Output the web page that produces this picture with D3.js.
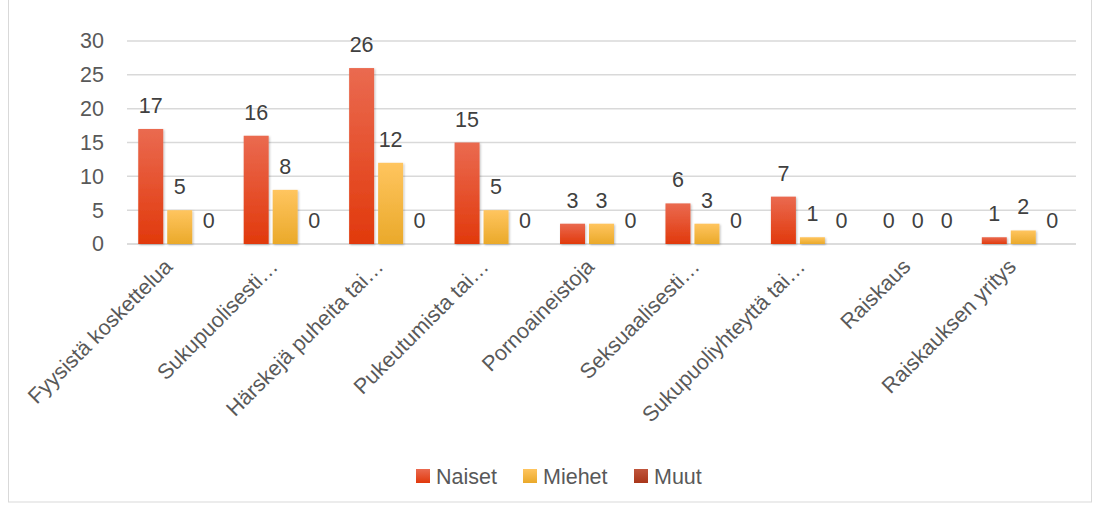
<!DOCTYPE html>
<html>
<head>
<meta charset="utf-8">
<script src="https://cdn.jsdelivr.net/npm/d3@7"></script>
<style>
  body { margin: 0; background: #fff; }
  text { font-family: "Liberation Sans", Arial, sans-serif; }
</style>
</head>
<body>
<script>
"use strict";
(function(){
    // data
    const categories = ["Fyysistä koskettelua", "Sukupuolisesti…", "Härskejä puheita tai…",
        "Pukeutumista tai…", "Pornoaineistoja", "Seksuaalisesti…", "Sukupuoliyhteyttä tai…",
        "Raiskaus", "Raiskauksen yritys"]
    const seriesNames = ["Naiset", "Miehet", "Muut"]
    const naiset = [17, 16, 26, 15, 3, 6, 7, 0, 1]
    const miehet = [5, 8, 12, 5, 3, 3, 1, 0, 2]
    const muut = [0, 0, 0, 0, 0, 0, 0, 0, 0]
    const yTicks = [0, 5, 10, 15, 20, 25, 30]

    const measurements = {
        width: 1100,
        height: 506,
        left: 127,
        right: 1076,
        top: 41,
        bottom: 244,
        font: 21.5
    }

    const svgContainer = d3.select('body').append("svg")
        .attr('width', measurements.width)
        .attr('height', measurements.height)

    // gradients for the bars
    const defs = svgContainer.append("defs")
    const gradients = [
        { id: "g0", top: "#ea6a50", bottom: "#e1390c" },
        { id: "g1", top: "#ffc55f", bottom: "#eaa92a" },
        { id: "g2", top: "#c0553c", bottom: "#a9361a" }
    ]
    gradients.forEach(function(g) {
        const lg = defs.append("linearGradient")
            .attr("id", g.id)
            .attr("x1", 0).attr("y1", 0).attr("x2", 0).attr("y2", 1)
        lg.append("stop").attr("offset", "0%").attr("stop-color", g.top)
        lg.append("stop").attr("offset", "100%").attr("stop-color", g.bottom)
    })
    const shadow = defs.append("filter").attr("id", "shadow")
        .attr("x", "-20%").attr("y", "-10%").attr("width", "150%").attr("height", "130%")
    shadow.append("feDropShadow")
        .attr("dx", 1).attr("dy", 1).attr("stdDeviation", 1.2)
        .attr("flood-color", "#000").attr("flood-opacity", 0.25)

    // chart frame
    svgContainer.append("rect")
        .attr("x", 8.5).attr("y", -2)
        .attr("width", 1083).attr("height", 504)
        .attr("fill", "none")
        .attr("stroke", "#d9d9d9")

    // scales
    const scaleX0 = d3.scaleBand()
        .domain(categories)
        .range([measurements.left, measurements.right])
        .paddingInner(0.2133)
        .paddingOuter(0.1066)

    const scaleX1 = d3.scaleBand()
        .domain(seriesNames)
        .range([0, scaleX0.bandwidth()])
        .paddingInner(0.138)

    const scaleY = d3.scaleLinear()
        .domain([0, 30])
        .range([measurements.bottom, measurements.top])

    // gridlines
    svgContainer.append("g")
        .selectAll("line")
        .data(yTicks)
        .enter()
        .append("line")
            .attr("x1", measurements.left)
            .attr("x2", measurements.right)
            .attr("y1", d => scaleY(d))
            .attr("y2", d => scaleY(d))
            .attr("stroke", d => d === 0 ? "#d0d0d0" : "#d9d9d9")
            .attr("stroke-width", 1.5)

    // y axis labels
    const yAxis = d3.axisLeft(scaleY)
        .tickValues(yTicks)
        .tickSize(0)
        .tickPadding(0)
    const yG = svgContainer.append("g")
        .attr("transform", "translate(104,0)")
        .call(yAxis)
    yG.select(".domain").remove()
    yG.selectAll("text")
        .attr("font-size", measurements.font)
        .attr("fill", "#595959")
        .attr("font-family", "'Liberation Sans', Arial, sans-serif")

    // x axis labels
    const xAxis = d3.axisBottom(scaleX0).tickSize(0)
    const xG = svgContainer.append("g")
        .attr("transform", "translate(0," + measurements.bottom + ")")
        .call(xAxis)
    xG.select(".domain").remove()
    xG.selectAll("text")
        .attr("font-size", measurements.font)
        .attr("fill", "#595959")
        .attr("font-family", "'Liberation Sans', Arial, sans-serif")
        .attr("text-anchor", "end")
        .attr("dy", 0)
        .attr("y", 0)
        .attr("transform", "translate(-6,24) rotate(-45)")

    // bars
    const table = categories.map(function(c, i) {
        return { cat: c, values: [naiset[i], miehet[i], muut[i]] }
    })

    const groups = svgContainer.selectAll(".group")
        .data(table)
        .enter()
        .append("g")
        .attr("class", "group")
        .attr("transform", d => "translate(" + scaleX0(d.cat) + ",0)")

    groups.selectAll("rect")
        .data(d => d.values.map((v, j) => ({ name: seriesNames[j], value: v, j: j })))
        .enter()
        .append("rect")
            .attr("x", d => scaleX1(d.name))
            .attr("y", d => scaleY(d.value))
            .attr("width", scaleX1.bandwidth())
            .attr("height", d => scaleY(0) - scaleY(d.value))
            .attr("fill", d => "url(#g" + d.j + ")")
            .attr("filter", "url(#shadow)")

    groups.selectAll(".label")
        .data(d => d.values.map((v, j) => ({ name: seriesNames[j], value: v })))
        .enter()
        .append("text")
            .attr("class", "label")
            .attr("x", d => scaleX1(d.name) + scaleX1.bandwidth() / 2)
            .attr("y", d => scaleY(d.value) - 16)
            .attr("text-anchor", "middle")
            .attr("font-size", measurements.font)
            .attr("fill", "#404040")
            .text(d => d.value)

    // legend
    const legendX = [416, 523, 634]
    const legend = svgContainer.selectAll(".legend")
        .data(seriesNames)
        .enter()
        .append("g")
        .attr("class", "legend")
        .attr("transform", (d, i) => "translate(" + legendX[i] + ",469)")

    legend.append("rect")
        .attr("width", 14)
        .attr("height", 14)
        .attr("fill", (d, i) => "url(#g" + i + ")")

    legend.append("text")
        .attr("x", 20)
        .attr("y", 15)
        .attr("font-size", measurements.font)
        .attr("fill", "#595959")
        .text(d => d)
})()
</script>
</body>
</html>
